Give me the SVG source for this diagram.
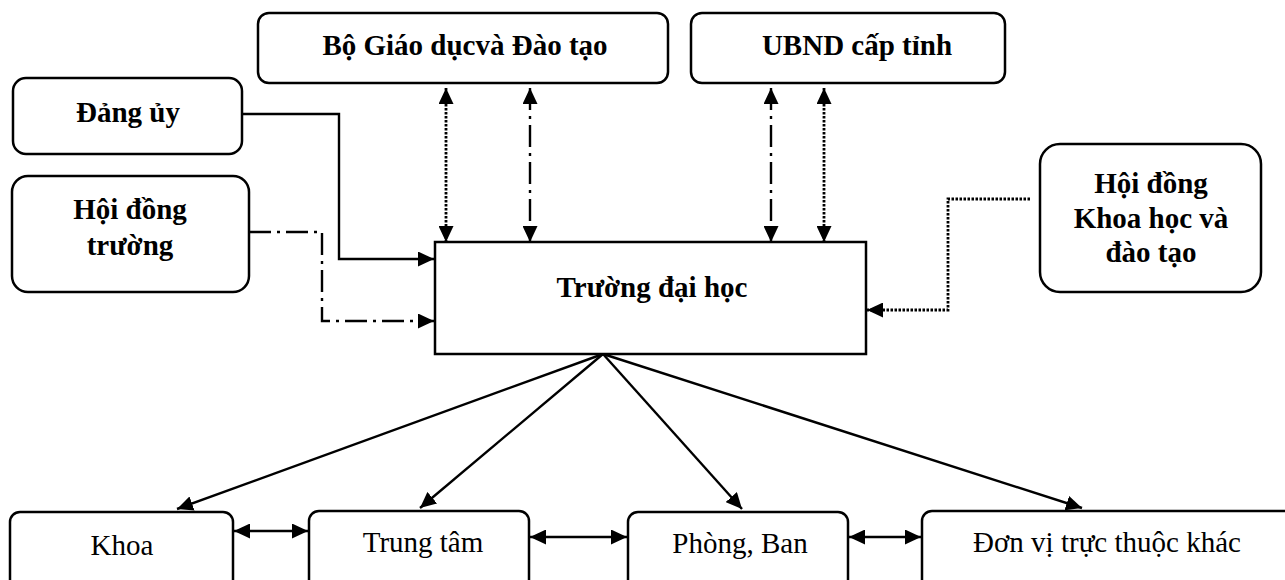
<svg xmlns="http://www.w3.org/2000/svg" width="1285" height="580" viewBox="0 0 1285 580">
  <style>
    .box { fill: #ffffff; stroke: #000000; stroke-width: 2.5; }
    .lbl { font-family: "Liberation Serif", "Times New Roman", serif; font-size: 29px; fill: #000000; text-anchor: middle; }
    .b { font-weight: bold; }
    .ln { fill: none; stroke: #000000; stroke-width: 2.4; }
    .dot { stroke-width: 2.8; stroke-dasharray: 2.5 1.5; }
    .dd { stroke-dasharray: 22 6 3 6; }
  </style>
  <defs>
    <marker id="arrow" viewBox="0 0 16 15" refX="16" refY="7.5" markerWidth="16" markerHeight="15" markerUnits="userSpaceOnUse" orient="auto-start-reverse">
      <path d="M0,0 L16,7.5 L0,15 z" fill="#000000"/>
    </marker>
  </defs>

  <rect width="1285" height="580" fill="#ffffff"/>

  <!-- connectors -->
  <g id="connectors">
    <!-- ministry / province links -->
    <line class="ln dot" x1="446" y1="88" x2="446" y2="242" marker-start="url(#arrow)" marker-end="url(#arrow)"/>
    <line class="ln dd" x1="530" y1="88" x2="530" y2="242" marker-start="url(#arrow)" marker-end="url(#arrow)"/>
    <line class="ln dd" x1="771" y1="88" x2="771" y2="242" marker-start="url(#arrow)" marker-end="url(#arrow)"/>
    <line class="ln dot" x1="824" y1="88" x2="824" y2="242" marker-start="url(#arrow)" marker-end="url(#arrow)"/>
    <!-- party committee -->
    <polyline class="ln" points="242,114 339,114 339,259 434,259" marker-end="url(#arrow)"/>
    <!-- university council -->
    <polyline class="ln dd" points="249,232 322,232 322,321 434,321" marker-end="url(#arrow)"/>
    <!-- science and training council -->
    <polyline class="ln dot" points="1030,199 948,199 948,310 867,310" marker-end="url(#arrow)"/>
    <!-- fan-out to units -->
    <line class="ln" x1="603" y1="354" x2="177" y2="509" marker-end="url(#arrow)"/>
    <line class="ln" x1="603" y1="354" x2="420" y2="508" marker-end="url(#arrow)"/>
    <line class="ln" x1="603" y1="354" x2="742" y2="509" marker-end="url(#arrow)"/>
    <line class="ln" x1="603" y1="354" x2="1082" y2="508" marker-end="url(#arrow)"/>
    <!-- links between units -->
    <line class="ln" x1="234" y1="531" x2="308" y2="531" marker-start="url(#arrow)" marker-end="url(#arrow)"/>
    <line class="ln" x1="530" y1="537" x2="627" y2="537" marker-start="url(#arrow)" marker-end="url(#arrow)"/>
    <line class="ln" x1="849" y1="537" x2="921" y2="537" marker-start="url(#arrow)" marker-end="url(#arrow)"/>
  </g>

  <g id="bo-giao-duc">
    <rect class="box" x="258" y="13" width="410" height="70" rx="11"/>
    <text class="lbl b" x="465" y="55">Bộ Giáo dụcvà Đào tạo</text>
  </g>

  <g id="ubnd">
    <rect class="box" x="691" y="13" width="314" height="70" rx="11"/>
    <text class="lbl b" x="857" y="55">UBND cấp tỉnh</text>
  </g>

  <g id="dang-uy">
    <rect class="box" x="13" y="78" width="229" height="76" rx="13"/>
    <text class="lbl b" x="128" y="122">Đảng ủy</text>
  </g>

  <g id="hoi-dong-truong">
    <rect class="box" x="12" y="176" width="237" height="116" rx="16"/>
    <text class="lbl b" x="130" y="219">Hội đồng</text>
    <text class="lbl b" x="130" y="255">trường</text>
  </g>

  <g id="hoi-dong-khoa-hoc">
    <rect class="box" x="1040" y="144" width="221" height="148" rx="20"/>
    <text class="lbl b" x="1151" y="193">Hội đồng</text>
    <text class="lbl b" x="1151" y="228">Khoa học và</text>
    <text class="lbl b" x="1151" y="262">đào tạo</text>
  </g>

  <g id="truong-dai-hoc">
    <rect class="box" x="435" y="242" width="431" height="112"/>
    <text class="lbl b" x="652" y="297">Trường đại học</text>
  </g>

  <g id="khoa">
    <rect class="box" x="10" y="512" width="223" height="80" rx="10"/>
    <text class="lbl" x="122" y="555">Khoa</text>
  </g>

  <g id="trung-tam">
    <rect class="box" x="309" y="511" width="220" height="80" rx="10"/>
    <text class="lbl" x="423" y="552">Trung tâm</text>
  </g>

  <g id="phong-ban">
    <rect class="box" x="628" y="512" width="220" height="80" rx="10"/>
    <text class="lbl" x="740" y="553">Phòng, Ban</text>
  </g>

  <g id="don-vi-khac">
    <rect class="box" x="922" y="511" width="372" height="80" rx="10"/>
    <text class="lbl" x="1107" y="552">Đơn vị trực thuộc khác</text>
  </g>
</svg>
